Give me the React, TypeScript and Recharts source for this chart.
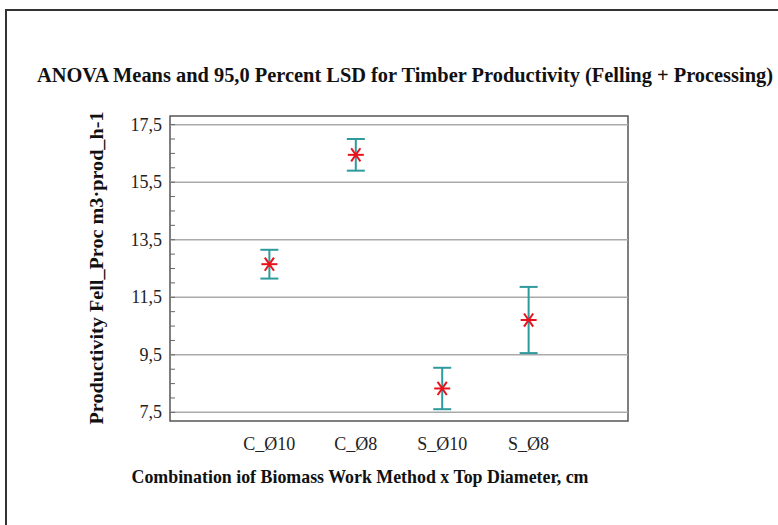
import React from "react";
import {
  ScatterChart,
  Scatter,
  XAxis,
  YAxis,
  ErrorBar,
  ReferenceLine,
  ReferenceArea,
} from "recharts";

const categories = ["C_Ø10", "C_Ø8", "S_Ø10", "S_Ø8"];
const means = [12.65, 16.45, 8.33, 10.71];
const lsdHalf = [0.5, 0.55, 0.72, 1.15];
const majorTicks = [7.5, 9.5, 11.5, 13.5, 15.5, 17.5];
const allTicks = [
  7.5, 8, 8.5, 9, 9.5, 10, 10.5, 11, 11.5, 12, 12.5, 13, 13.5, 14, 14.5, 15,
  15.5, 16, 16.5, 17, 17.5,
];
const categoryPositions = [0, 1, 2, 3];

const data = categories.map((c, i) => ({
  pos: categoryPositions[i],
  mean: means[i],
  err: lsdHalf[i],
}));

const serif = "'Liberation Serif', 'Times New Roman', serif";
const fmt = (v: number) => v.toFixed(1).replace(".", ",");

const Star = (props: any) => {
  const { cx, cy } = props;
  const r = 8;
  const angles = [0, 55, 125];
  return (
    <g>
      {angles.map((a) => {
        const dx = r * Math.cos((a * Math.PI) / 180);
        const dy = r * Math.sin((a * Math.PI) / 180);
        return (
          <line
            key={a}
            x1={cx - dx}
            y1={cy - dy}
            x2={cx + dx}
            y2={cy + dy}
            stroke="#e8121c"
            strokeWidth={2}
          />
        );
      })}
    </g>
  );
};

const LeftTick = (props: any) => {
  const { x, y, payload } = props;
  const major = majorTicks.includes(payload.value);
  return (
    <g>
      <line x1={x} x2={x + 5} y1={y} y2={y} stroke="#666" />
      {major && (
        <text
          x={x - 8}
          y={y + 6}
          textAnchor="end"
          fontFamily={serif}
          fontSize={18}
          fill="#222"
        >
          {fmt(payload.value)}
        </text>
      )}
    </g>
  );
};

const RightTick = (props: any) => {
  const { x, y } = props;
  return <line x1={x - 5} x2={x} y1={y} y2={y} stroke="#666" />;
};

export default function App() {
  return (
    <div
      style={{
        position: "absolute",
        left: 0,
        top: 0,
        width: 778,
        height: 525,
        background: "#fff",
        overflow: "hidden",
      }}
    >
      <div
        style={{
          position: "absolute",
          left: 5,
          top: 9,
          width: 800,
          height: 560,
          borderTop: "2px solid #333",
          borderLeft: "2px solid #333",
        }}
      />
      <ScatterChart
        width={778}
        height={525}
        margin={{ top: 116, right: 149, bottom: 74, left: 100 }}
        style={{ position: "absolute", left: 0, top: 0 }}
      >
        <XAxis
          type="number"
          dataKey="pos"
          domain={[-1.15, 4.15]}
          ticks={categoryPositions}
          tickFormatter={(v: number) => categories[v] ?? ""}
          interval={0}
          axisLine={false}
          tickLine={false}
          tickMargin={10}
          height={30}
          tick={{ fill: "#222", fontSize: 18, fontFamily: serif }}
        />
        <YAxis
          type="number"
          dataKey="mean"
          domain={[7.2, 17.8]}
          ticks={allTicks}
          interval={0}
          axisLine={false}
          tickLine={false}
          tickSize={0}
          tickMargin={0}
          width={70}
          tick={<LeftTick />}
        />
        <YAxis
          yAxisId="right"
          orientation="right"
          type="number"
          domain={[7.2, 17.8]}
          ticks={allTicks}
          interval={0}
          axisLine={false}
          tickLine={false}
          tickSize={0}
          tickMargin={0}
          width={1}
          tick={<RightTick />}
        />
        {majorTicks.map((t) => (
          <ReferenceLine key={t} y={t} stroke="#aaa" strokeWidth={1.5} />
        ))}
        <ReferenceArea
          x1={-1.15}
          x2={4.15}
          y1={7.2}
          y2={17.8}
          fill="none"
          stroke="#555"
          strokeWidth={1.5}
          ifOverflow="visible"
        />
        <Scatter data={data} shape={<Star />} isAnimationActive={false}>
          <ErrorBar
            dataKey="err"
            direction="y"
            width={9}
            stroke="#2f9a9c"
            strokeWidth={2}
          />
        </Scatter>
      </ScatterChart>
      <svg
        width={778}
        height={525}
        style={{ position: "absolute", left: 0, top: 0, pointerEvents: "none" }}
      >
        <text
          x={405}
          y={82}
          textAnchor="middle"
          fontFamily={serif}
          fontWeight="bold"
          fontSize={20}
          fill="#111"
          textLength={736}
          lengthAdjust="spacingAndGlyphs"
        >
          ANOVA Means and 95,0 Percent LSD  for Timber Productivity (Felling + Processing)
        </text>
        <text
          transform="translate(103,268) rotate(-90)"
          textAnchor="middle"
          fontFamily={serif}
          fontWeight="bold"
          fontSize={19}
          fill="#111"
          textLength={313}
          lengthAdjust="spacingAndGlyphs"
        >
          Productivity Fell_Proc m3·prod_h-1
        </text>
        <text
          x={360}
          y={483}
          textAnchor="middle"
          fontFamily={serif}
          fontWeight="bold"
          fontSize={19}
          fill="#111"
          textLength={457}
          lengthAdjust="spacingAndGlyphs"
        >
          Combination iof Biomass Work Method x Top Diameter, cm
        </text>
      </svg>
    </div>
  );
}
